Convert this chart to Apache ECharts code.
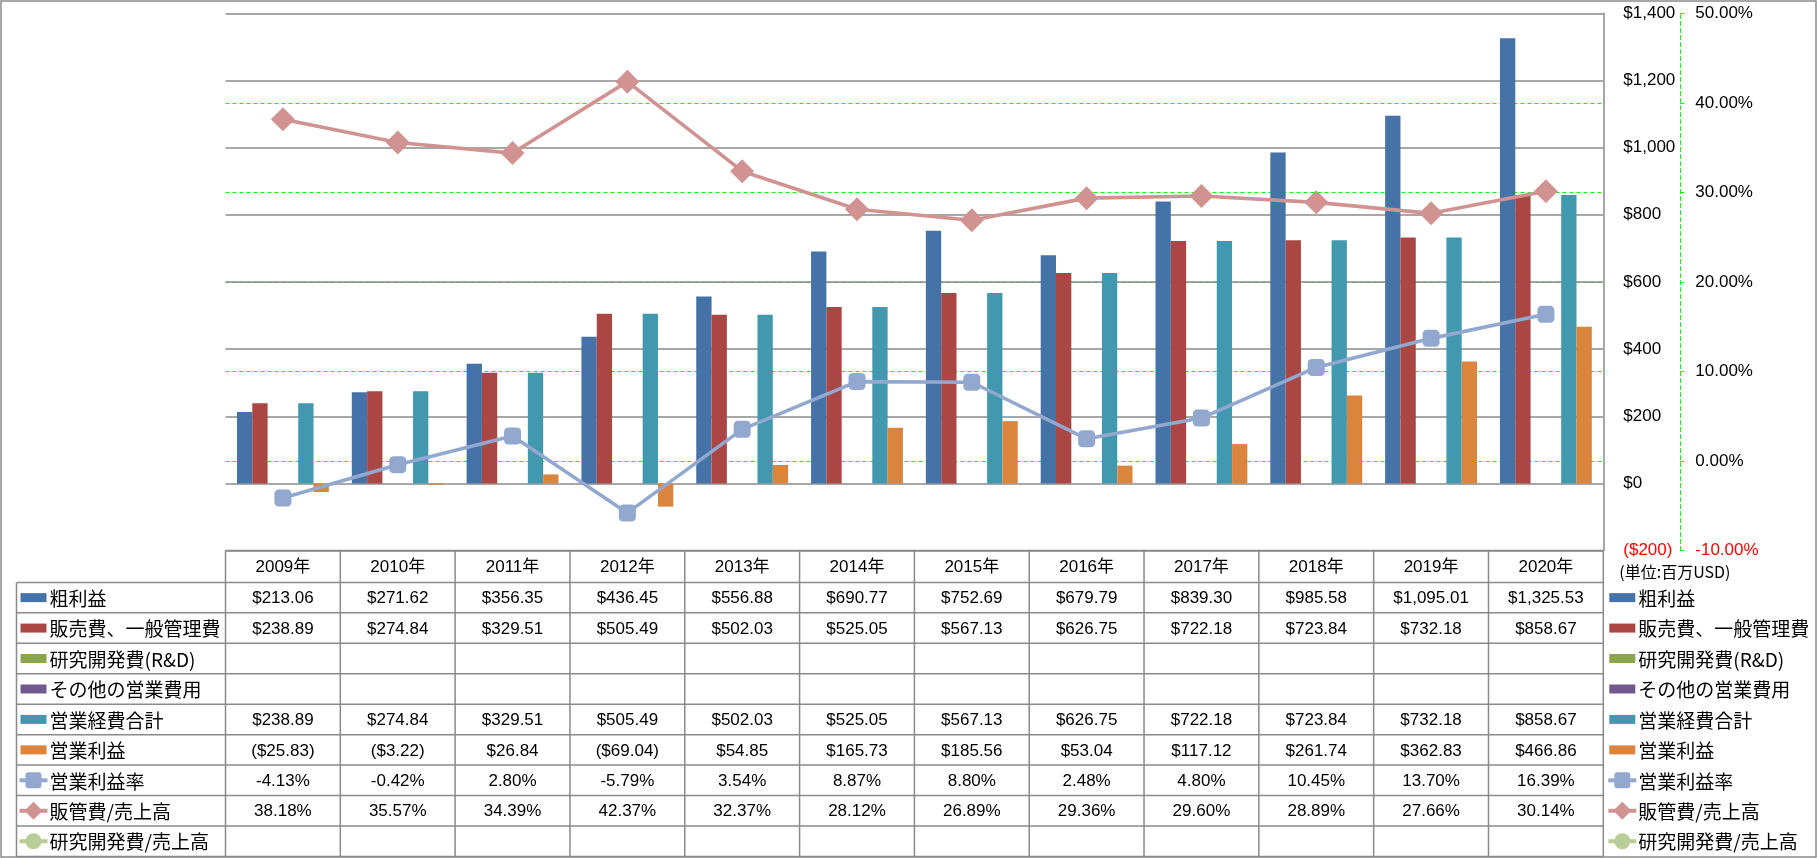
<!DOCTYPE html>
<html><head><meta charset="utf-8">
<script src="https://cdn.jsdelivr.net/npm/echarts@6/dist/echarts.min.js"></script>
<style>html,body{margin:0;padding:0;background:#fff}#c{width:1817px;height:858px}</style>
</head><body><div id="c"></div>
<script>
// ---- data ----
const years = ['2009年','2010年','2011年','2012年','2013年','2014年','2015年','2016年','2017年','2018年','2019年','2020年'];
const grossProfit = [213.06, 271.62, 356.35, 436.45, 556.88, 690.77, 752.69, 679.79, 839.30, 985.58, 1095.01, 1325.53];
const sgaExpense  = [238.89, 274.84, 329.51, 505.49, 502.03, 525.05, 567.13, 626.75, 722.18, 723.84, 732.18, 858.67];
const rndExpense  = [null, null, null, null, null, null, null, null, null, null, null, null];
const otherOpex   = [null, null, null, null, null, null, null, null, null, null, null, null];
const totalOpex   = [238.89, 274.84, 329.51, 505.49, 502.03, 525.05, 567.13, 626.75, 722.18, 723.84, 732.18, 858.67];
const opIncome    = [-25.83, -3.22, 26.84, -69.04, 54.85, 165.73, 185.56, 53.04, 117.12, 261.74, 362.83, 466.86];
const opMargin    = [-4.13, -0.42, 2.80, -5.79, 3.54, 8.87, 8.80, 2.48, 4.80, 10.45, 13.70, 16.39];
const sgaRatio    = [38.18, 35.57, 34.39, 42.37, 32.37, 28.12, 26.89, 29.36, 29.60, 28.89, 27.66, 30.14];
const rndRatio    = [null, null, null, null, null, null, null, null, null, null, null, null];
const usdAxis = {min: -200, max: 1400, interval: 200};
const pctAxis = {min: -10, max: 50, interval: 10};
const unitNote = '(単位:百万USD)';

const seriesNames = ['粗利益','販売費、一般管理費','研究開発費(R&D)','その他の営業費用','営業経費合計','営業利益','営業利益率','販管費/売上高','研究開発費/売上高'];
const seriesData = [grossProfit, sgaExpense, rndExpense, otherOpex, totalOpex, opIncome, opMargin, sgaRatio, rndRatio];
const seriesKinds = ['usd','usd','usd','usd','usd','usd','pct','pct','pct'];
const colors = ['#4572A7','#AA4643','#89A54E','#71588F','#4198AF','#DB843D','#92A8CF','#D09392','#B9CD96'];
const symbols = [null,null,null,null,null,null,'roundRect','diamond','circle'];

// ---- formatting ----
function withCommas(s){ const p = s.split('.'); p[0] = p[0].replace(/\B(?=(\d{3})+(?!\d))/g, ','); return p.join('.'); }
function fmtUsd(v, dec){ const s = withCommas(Math.abs(v).toFixed(dec)); return v < 0 ? '($' + s + ')' : '$' + s; }
function fmtPct(v){ return v.toFixed(2) + '%'; }

const NUM_FONT = "'Liberation Sans', 'Noto Sans CJK JP', sans-serif";
const CJK_FONT = "'Noto Sans CJK JP', 'Liberation Sans', sans-serif";

const chart = echarts.init(document.getElementById('c'));

// yAxis 0 = percent (drawn first, underneath), yAxis 1 = USD (gray grid on top)
const PCT = 0, USD = 1;
const series = [];
for (let i = 0; i < 6; i++) {
  series.push({
    name: seriesNames[i], type: 'bar', yAxisIndex: USD, data: seriesData[i],
    itemStyle: {color: colors[i]}, barGap: '0%', barCategoryGap: '20%'
  });
}
const symSizes = {roundRect: 17, diamond: 24, circle: 15};
for (let i = 6; i < 9; i++) {
  series.push({
    name: seriesNames[i], type: 'line', yAxisIndex: PCT, data: seriesData[i],
    symbol: symbols[i], symbolSize: symSizes[symbols[i]], z: 5,
    lineStyle: {color: colors[i], width: 3.6},
    itemStyle: {color: colors[i], borderWidth: 0}
  });
}

const option = {
  animation: false,
  backgroundColor: '#fff',
  grid: {left: 225.5, right: 213.7, top: 13.3, bottom: 307.4, containLabel: false, outerBoundsMode: 'none'},
  xAxis: {
    type: 'category', data: years,
    axisLine: {show: false}, axisTick: {show: false}, axisLabel: {show: false}, splitLine: {show: false}
  },
  yAxis: [
    {
      type: 'value', position: 'right', offset: 77, min: pctAxis.min, max: pctAxis.max, interval: pctAxis.interval,
      axisLine: {show: true, lineStyle: {color: '#00FF00', width: 1, type: [4, 3]}},
      axisTick: {show: true, length: 4, lineStyle: {color: '#00FF00', width: 1}},
      axisLabel: {margin: 15, fontSize: 17, fontFamily: NUM_FONT,
        formatter: v => fmtPct(v),
        color: v => (parseFloat(v) < 0 ? '#FF0000' : '#000')},
      splitLine: {show: true, showMinLine: false, showMaxLine: false, lineStyle: {color: '#00FF00', width: 1, type: [4, 3]}}
    },
    {
      type: 'value', position: 'right', min: usdAxis.min, max: usdAxis.max, interval: usdAxis.interval,
      axisLine: {show: true, lineStyle: {color: '#8a8a8a', width: 1.5}},
      axisTick: {show: false},
      axisLabel: {margin: 20, fontSize: 17, fontFamily: NUM_FONT,
        formatter: v => fmtUsd(v, 0),
        color: v => (parseFloat(v) < 0 ? '#FF0000' : '#000')},
      splitLine: {show: true, lineStyle: {color: '#8a8a8a', width: 1.5}}
    }
  ],
  series: series
};
chart.setOption(option);

// ---- data table + legend keys (positioned from the axes) ----
function buildTable(){
  const xs = years.map((_, i) => chart.convertToPixel({gridIndex: 0}, [i, 0])[0]);
  const bandW = xs[1] - xs[0];
  const plotLeft = xs[0] - bandW / 2;
  const plotRight = xs[xs.length - 1] + bandW / 2;
  const tableTop = chart.convertToPixel({yAxisIndex: USD}, usdAxis.min);
  const headerH = 31.8;
  const rowH = 30.45;
  const rowsTop = tableTop + headerH;
  const tableBottom = rowsTop + rowH * seriesNames.length;
  const tableLeft = 16.5;
  const LINE = {stroke: '#8a8a8a', lineWidth: 1.5};
  const g = [];
  const line = (x1, y1, x2, y2) => g.push({type: 'line', shape: {x1, y1, x2, y2}, style: LINE, silent: true});

  // outer chart border
  g.push({type: 'rect', shape: {x: 1, y: 1, width: 1815, height: 856}, style: {fill: 'none', stroke: '#8a8a8a', lineWidth: 1.5}, silent: true});

  // horizontal lines
  line(plotLeft, tableTop, plotRight, tableTop);
  for (let r = 0; r <= seriesNames.length; r++) line(tableLeft, rowsTop + r * rowH, plotRight, rowsTop + r * rowH);
  // vertical lines
  line(tableLeft, rowsTop, tableLeft, tableBottom);
  for (let c = 0; c <= years.length; c++) {
    const x = plotLeft + c * bandW;
    line(x, tableTop, x, tableBottom);
  }
  // header texts
  years.forEach((y, i) => g.push({type: 'text', x: xs[i], y: tableTop + headerH / 2 + 1,
    style: {text: y, fill: '#000', fontSize: 17, fontFamily: NUM_FONT, align: 'center', verticalAlign: 'middle'}, silent: true}));
  // cells
  seriesData.forEach((arr, r) => {
    const cy = rowsTop + (r + 0.5) * rowH + 1;
    arr.forEach((v, i) => {
      if (v === null || v === undefined) return;
      const t = seriesKinds[r] === 'usd' ? fmtUsd(v, 2) : fmtPct(v);
      g.push({type: 'text', x: xs[i], y: cy,
        style: {text: t, fill: '#000', fontSize: 17, fontFamily: NUM_FONT, align: 'center', verticalAlign: 'middle'}, silent: true});
    });
  });
  // legend keys (left in table and right of table)
  const keyLefts = [tableLeft + 4, plotRight + 6];
  keyLefts.forEach(kx => {
    seriesNames.forEach((name, r) => {
      const cy = rowsTop + (r + 0.5) * rowH;
      const col = colors[r];
      if (r < 6) {
        g.push({type: 'rect', shape: {x: kx, y: cy - 4.5, width: 26, height: 9}, style: {fill: col}, silent: true});
      } else {
        g.push({type: 'line', shape: {x1: kx - 1, y1: cy, x2: kx + 27, y2: cy}, style: {stroke: col, lineWidth: 4}, silent: true});
        const mx = kx + 13;
        if (symbols[r] === 'roundRect') {
          g.push({type: 'rect', shape: {x: mx - 8, y: cy - 8, width: 16, height: 16, r: 3}, style: {fill: col}, silent: true});
        } else if (symbols[r] === 'diamond') {
          g.push({type: 'polygon', shape: {points: [[mx, cy - 9], [mx + 9, cy], [mx, cy + 9], [mx - 9, cy]]}, style: {fill: col}, silent: true});
        } else {
          g.push({type: 'circle', shape: {cx: mx, cy: cy, r: 8}, style: {fill: col}, silent: true});
        }
      }
      g.push({type: 'text', x: kx + 29, y: cy + 1,
        style: {text: name, fill: '#000', fontSize: 19, fontFamily: CJK_FONT, align: 'left', verticalAlign: 'middle'}, silent: true});
    });
  });
  // unit note
  g.push({type: 'text', x: plotRight + 16, y: tableTop + 21,
    style: {text: unitNote, fill: '#000', fontSize: 16, fontFamily: CJK_FONT, align: 'left', verticalAlign: 'middle'}, silent: true});
  chart.setOption({graphic: {elements: g}});
}
buildTable();
</script></body></html>
